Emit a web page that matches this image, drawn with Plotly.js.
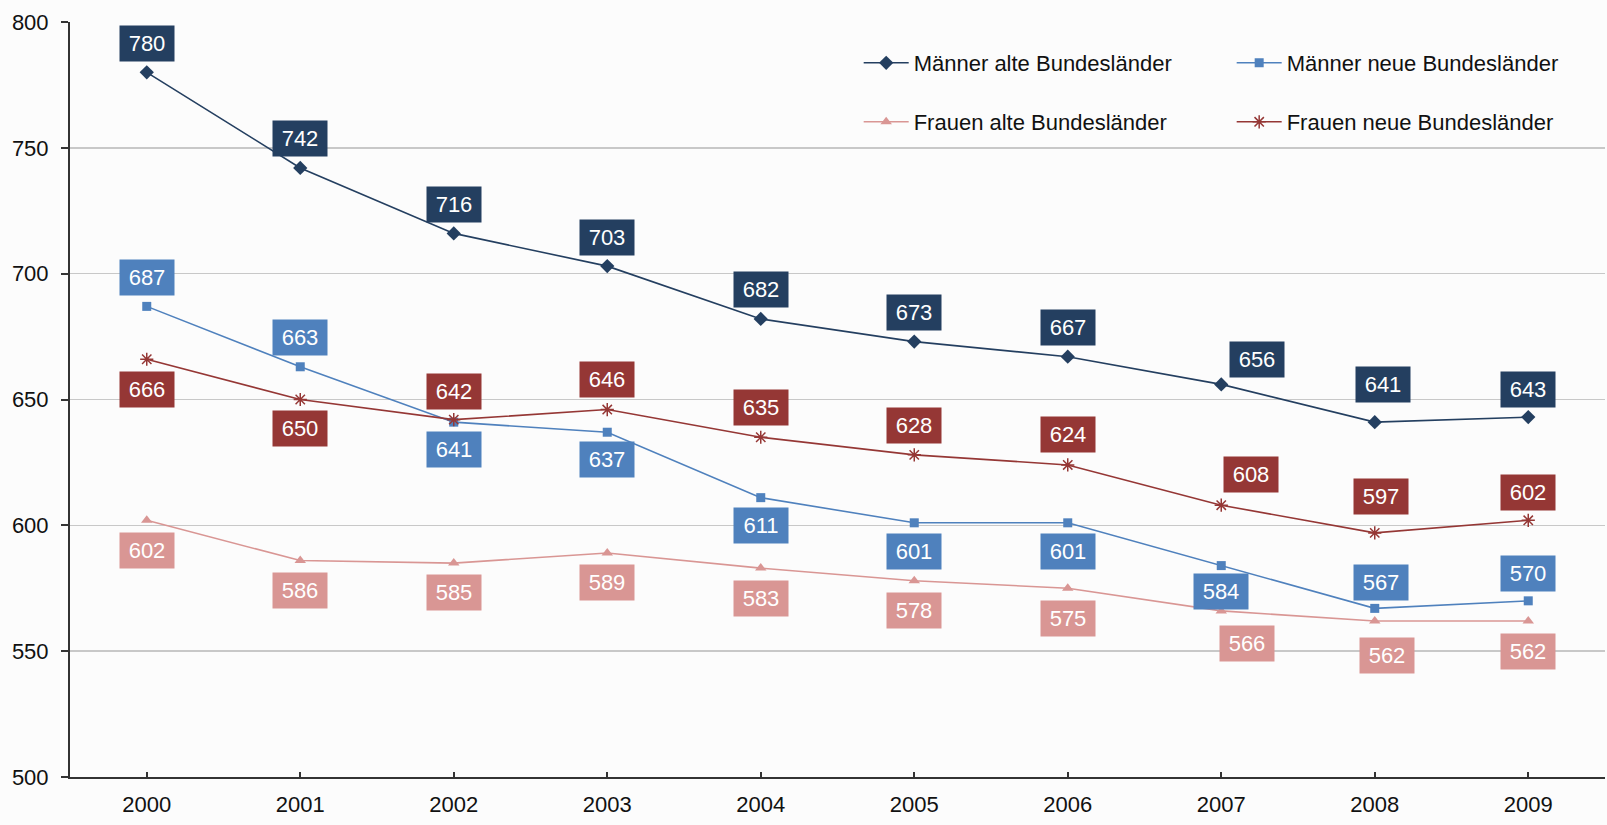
<!DOCTYPE html>
<html>
<head>
<meta charset="utf-8">
<script src="https://cdn.plot.ly/plotly-3.0.1.min.js"></script>
<style>html,body{margin:0;padding:0;background:#fcfcfc;}#chart{width:1607px;height:825px;}</style>
</head>
<body>
<div id="chart"></div>
<script>
// Data
const years = [2000,2001,2002,2003,2004,2005,2006,2007,2008,2009];
const maennerAlte = [780,742,716,703,682,673,667,656,641,643];
const maennerNeue = [687,663,641,637,611,601,601,584,567,570];
const frauenAlte  = [602,586,585,589,583,578,575,566,562,562];
const frauenNeue  = [666,650,642,646,635,628,624,608,597,602];
const seriesNames = ['Männer alte Bundesländer','Männer neue Bundesländer','Frauen alte Bundesländer','Frauen neue Bundesländer'];

// Styles
const colors = ['#243f60','#4f81bd','#d99694','#953735'];
const symbols = ['diamond','square','triangle-up','asterisk-open'];
const msizes = [11,9,10,11];
const legendIds = ['legend','legend','legend2','legend2'];
// label offsets [dx, dy] in px (dy positive = up)
const labelOffsets = [
  [[0,29],[0,29],[0,29],[0,29],[0,29],[0,29],[0,29],[36,25],[8,38],[0,28]],
  [[0,29],[0,29],[0,-27],[0,-27],[0,-28],[0,-29],[0,-29],[0,-26],[6,26],[0,27]],
  [[0,-30],[0,-30],[0,-29],[0,-29],[0,-30],[0,-30],[0,-30],[26,-33],[12,-35],[0,-31]],
  [[0,-30],[0,-29],[0,28],[0,30],[0,30],[0,29],[0,30],[30,31],[6,36],[0,28]]
];

const allSeries = [maennerAlte, maennerNeue, frauenAlte, frauenNeue];
const FONT = 'Liberation Sans, Arial, sans-serif';

const traces = allSeries.map((vals,i)=>({
  type:'scatter', mode:'lines+markers', name:seriesNames[i],
  x:years, y:vals, legend:legendIds[i],
  line:{color:colors[i], width:1.6},
  marker:{symbol:symbols[i], size:msizes[i], color:colors[i], line:{color:colors[i], width: i===3?1.5:0}},
  hoverinfo:'x+y'
}));

const annotations = [];
allSeries.forEach((vals,i)=>{
  vals.forEach((v,j)=>{
    annotations.push({
      x:years[j], y:v, xref:'x', yref:'y', text:String(v), showarrow:false,
      xshift:labelOffsets[i][j][0], yshift:labelOffsets[i][j][1],
      bgcolor:colors[i], width:54, height:35, borderpad:0,
      font:{family:FONT, size:22, color:'#ffffff'}
    });
  });
});

const legendCommon = {orientation:'h', xanchor:'left', yanchor:'middle', bgcolor:'rgba(0,0,0,0)',
  entrywidth:313, entrywidthmode:'pixels', itemwidth:45, font:{family:FONT, size:22, color:'#111'}};

const layout = {
  width:1607, height:825,
  margin:{l:70, r:2, t:22, b:48},
  paper_bgcolor:'#fcfcfc', plot_bgcolor:'#fcfcfc',
  font:{family:FONT, color:'#111'},
  showlegend:true,
  xaxis:{type:'linear', range:[1999.5,2009.5], tickmode:'array', tickvals:years, ticktext:years.map(String),
    showgrid:false, showline:true, linecolor:'#333', linewidth:2,
    ticks:'inside', ticklen:5, tickwidth:2, tickcolor:'#333', ticklabelstandoff:7,
    tickfont:{family:FONT, size:22, color:'#111'}, zeroline:false, fixedrange:true},
  yaxis:{range:[500,800], dtick:50, tick0:500, showgrid:true, gridcolor:'#c8c8c8', gridwidth:1.5,
    showline:true, linecolor:'#333', linewidth:2, ticks:'outside', ticklen:7, tickwidth:2, tickcolor:'#333',
    ticklabelstandoff:8, tickfont:{family:FONT, size:22, color:'#111'}, zeroline:false, fixedrange:true},
  legend:Object.assign({}, legendCommon, {x:0.5138, y:1 - (63-22)/755}),
  legend2:Object.assign({}, legendCommon, {x:0.5138, y:1 - (122-22)/755}),
  annotations:annotations
};

Plotly.newPlot('chart', traces, layout, {displayModeBar:false, staticPlot:true});
</script>
</body>
</html>
